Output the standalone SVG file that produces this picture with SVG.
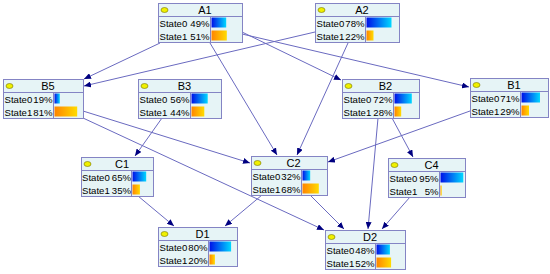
<svg xmlns="http://www.w3.org/2000/svg" width="550" height="274" viewBox="0 0 550 274">
<defs>
<linearGradient id="gb" x1="0" y1="0" x2="1" y2="0"><stop offset="0" stop-color="#0010e8"/><stop offset="1" stop-color="#00d8ff"/></linearGradient>
<linearGradient id="go" x1="0" y1="0" x2="1" y2="0"><stop offset="0" stop-color="#ff8400"/><stop offset="1" stop-color="#ffdc00"/></linearGradient>
<marker id="ah" markerWidth="8" markerHeight="6" refX="7" refY="3" orient="auto" markerUnits="userSpaceOnUse"><path d="M0,0 L7,3 L0,6 Z" fill="#000080"/></marker>
<style>
.box{fill:#e6f4f6;stroke:#8484c4;stroke-width:1}
.ln{stroke:#8484c4;stroke-width:1;fill:none}
.dot{fill:#f0f000;stroke:#707000;stroke-width:0.6}
.hd{font-family:"Liberation Sans",Arial,sans-serif;font-size:11px;fill:#000;text-anchor:middle}
.st{font-family:"Liberation Sans",Arial,sans-serif;font-size:9.6px;fill:#000}
.pc{font-family:"Liberation Sans",Arial,sans-serif;font-size:9.6px;fill:#000;text-anchor:end}
.b0{fill:url(#gb)}
.b1{fill:url(#go)}
#edges line{stroke:#6a6ac0;stroke-width:1;marker-end:url(#ah)}
</style>
</defs>
<rect width="550" height="274" fill="#ffffff"/>
<g id="edges">
<line x1="160" y1="43" x2="84" y2="79"/>
<line x1="315" y1="32" x2="84" y2="86"/>
<line x1="242" y1="32" x2="341" y2="80"/>
<line x1="242" y1="34" x2="469" y2="87"/>
<line x1="210" y1="43" x2="277" y2="155"/>
<line x1="348" y1="43" x2="297" y2="155"/>
<line x1="83" y1="111" x2="250" y2="163"/>
<line x1="83" y1="118" x2="324" y2="230"/>
<line x1="162" y1="118" x2="135" y2="156"/>
<line x1="392" y1="118" x2="413" y2="157"/>
<line x1="378" y1="118" x2="368" y2="229"/>
<line x1="470" y1="111" x2="328" y2="162"/>
<line x1="138" y1="196" x2="174" y2="226"/>
<line x1="262" y1="195" x2="225" y2="226"/>
<line x1="310" y1="195" x2="344" y2="229"/>
<line x1="410" y1="197" x2="382" y2="229"/>
</g>
<g id="A1" transform="translate(158.5,3.5)">
<rect class="box" width="84" height="39"/><path class="ln" d="M0,13 H84 M52,13 V39"/><ellipse class="dot" cx="6" cy="6.5" rx="3.5" ry="2.5"/>
<text class="hd" x="46.5" y="10.5">A1</text>
<text class="st" x="1" y="23">State0</text><text class="pc" x="51" y="23">49%</text><rect class="b0" x="53" y="14" width="14.7" height="10"/>
<text class="st" x="1" y="36">State1</text><text class="pc" x="51" y="36">51%</text><rect class="b1" x="53" y="27" width="15.3" height="10"/>
</g>
<g id="A2" transform="translate(315.5,3.5)">
<rect class="box" width="84" height="39"/><path class="ln" d="M0,13 H84 M50,13 V39"/><ellipse class="dot" cx="6" cy="6.5" rx="3.5" ry="2.5"/>
<text class="hd" x="46.5" y="10.5">A2</text>
<text class="st" x="1" y="23">State0</text><text class="pc" x="49" y="23">78%</text><rect class="b0" x="51" y="14" width="25" height="10"/>
<text class="st" x="1" y="36">State1</text><text class="pc" x="49" y="36">22%</text><rect class="b1" x="51" y="27" width="7" height="10"/>
</g>
<g id="B5" transform="translate(3.5,79.5)">
<rect class="box" width="80" height="39"/><path class="ln" d="M0,13 H80 M50,13 V39"/><ellipse class="dot" cx="6" cy="6.5" rx="3.5" ry="2.5"/>
<text class="hd" x="44.5" y="10.5">B5</text>
<text class="st" x="1" y="23">State0</text><text class="pc" x="49" y="23">19%</text><rect class="b0" x="51" y="14" width="5.3" height="10"/>
<text class="st" x="1" y="36">State1</text><text class="pc" x="49" y="36">81%</text><rect class="b1" x="51" y="27" width="22.7" height="10"/>
</g>
<g id="B3" transform="translate(138.5,79.5)">
<rect class="box" width="83" height="39"/><path class="ln" d="M0,13 H83 M52,13 V39"/><ellipse class="dot" cx="6" cy="6.5" rx="3.5" ry="2.5"/>
<text class="hd" x="46" y="10.5">B3</text>
<text class="st" x="1" y="23">State0</text><text class="pc" x="51" y="23">56%</text><rect class="b0" x="53" y="14" width="16.2" height="10"/>
<text class="st" x="1" y="36">State1</text><text class="pc" x="51" y="36">44%</text><rect class="b1" x="53" y="27" width="12.8" height="10"/>
</g>
<g id="B2" transform="translate(342.5,79.5)">
<rect class="box" width="77" height="39"/><path class="ln" d="M0,13 H77 M51,13 V39"/><ellipse class="dot" cx="6" cy="6.5" rx="3.5" ry="2.5"/>
<text class="hd" x="43" y="10.5">B2</text>
<text class="st" x="1" y="23">State0</text><text class="pc" x="50" y="23">72%</text><rect class="b0" x="52" y="14" width="17.3" height="10"/>
<text class="st" x="1" y="36">State1</text><text class="pc" x="50" y="36">28%</text><rect class="b1" x="52" y="27" width="6.7" height="10"/>
</g>
<g id="B1" transform="translate(470.5,78.5)">
<rect class="box" width="78" height="39"/><path class="ln" d="M0,13 H78 M50,13 V39"/><ellipse class="dot" cx="6" cy="6.5" rx="3.5" ry="2.5"/>
<text class="hd" x="43.5" y="10.5">B1</text>
<text class="st" x="1" y="23">State0</text><text class="pc" x="49" y="23">71%</text><rect class="b0" x="51" y="14" width="18.5" height="10"/>
<text class="st" x="1" y="36">State1</text><text class="pc" x="49" y="36">29%</text><rect class="b1" x="51" y="27" width="7.5" height="10"/>
</g>
<g id="C1" transform="translate(81.5,157.5)">
<rect class="box" width="72" height="39"/><path class="ln" d="M0,13 H72 M50,13 V39"/><ellipse class="dot" cx="6" cy="6.5" rx="3.5" ry="2.5"/>
<text class="hd" x="40.5" y="10.5">C1</text>
<text class="st" x="0.5" y="23">State0</text><text class="pc" x="49.5" y="23">65%</text><rect class="b0" x="51" y="14" width="13.7" height="10"/>
<text class="st" x="0.5" y="36">State1</text><text class="pc" x="49.5" y="36">35%</text><rect class="b1" x="51" y="27" width="7.4" height="10"/>
</g>
<g id="C2" transform="translate(251.5,156.5)">
<rect class="box" width="76" height="39"/><path class="ln" d="M0,13 H76 M50,13 V39"/><ellipse class="dot" cx="6" cy="6.5" rx="3.5" ry="2.5"/>
<text class="hd" x="42" y="10.5">C2</text>
<text class="st" x="1" y="23">State0</text><text class="pc" x="49" y="23">32%</text><rect class="b0" x="51" y="14" width="7.7" height="10"/>
<text class="st" x="1" y="36">State1</text><text class="pc" x="49" y="36">68%</text><rect class="b1" x="51" y="27" width="16.3" height="10"/>
</g>
<g id="C4" transform="translate(388.5,158.5)">
<rect class="box" width="77" height="39"/><path class="ln" d="M0,13 H77 M51,13 V39"/><ellipse class="dot" cx="6" cy="6.5" rx="3.5" ry="2.5"/>
<text class="hd" x="43" y="10.5">C4</text>
<text class="st" x="1" y="23">State0</text><text class="pc" x="50" y="23">95%</text><rect class="b0" x="52" y="14" width="22.8" height="10"/>
<text class="st" x="1" y="36">State1</text><text class="pc" x="50" y="36">5%</text><rect class="b1" x="52" y="27" width="1.2" height="10"/>
</g>
<g id="D1" transform="translate(158.5,227.5)">
<rect class="box" width="79" height="39"/><path class="ln" d="M0,13 H79 M50,13 V39"/><ellipse class="dot" cx="6" cy="6.5" rx="3.5" ry="2.5"/>
<text class="hd" x="44" y="10.5">D1</text>
<text class="st" x="1" y="23">State0</text><text class="pc" x="49" y="23">80%</text><rect class="b0" x="51" y="14" width="21.6" height="10"/>
<text class="st" x="1" y="36">State1</text><text class="pc" x="49" y="36">20%</text><rect class="b1" x="51" y="27" width="5.4" height="10"/>
</g>
<g id="D2" transform="translate(325.5,230.5)">
<rect class="box" width="80" height="39"/><path class="ln" d="M0,13 H80 M50,13 V39"/><ellipse class="dot" cx="6" cy="6.5" rx="3.5" ry="2.5"/>
<text class="hd" x="44.5" y="10.5">D2</text>
<text class="st" x="1" y="23">State0</text><text class="pc" x="49" y="23">48%</text><rect class="b0" x="51" y="14" width="13.4" height="10"/>
<text class="st" x="1" y="36">State1</text><text class="pc" x="49" y="36">52%</text><rect class="b1" x="51" y="27" width="14.6" height="10"/>
</g>
</svg>
